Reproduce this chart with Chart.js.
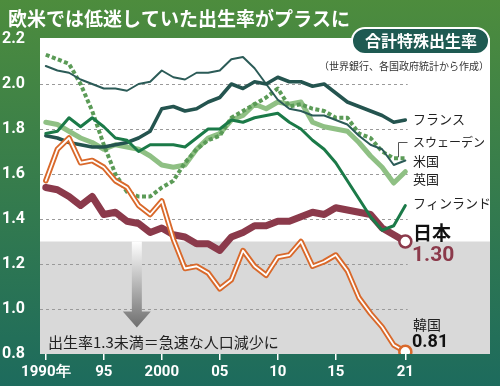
<!DOCTYPE html>
<html lang="ja">
<head>
<meta charset="UTF-8">
<title>欧米では低迷していた出生率がプラスに</title>
<script src="https://cdn.jsdelivr.net/npm/chart.js"></script>
<style>
  html, body { margin: 0; padding: 0; background: #3f7f4a; }
  #wrap { width: 500px; height: 386px; }
</style>
</head>
<body>
<div id="wrap"><canvas id="tfr" width="500" height="386"></canvas></div>
<script>
// 合計特殊出生率 1990-2021
const years = [1990, 1991, 1992, 1993, 1994, 1995, 1996, 1997, 1998, 1999,
               2000, 2001, 2002, 2003, 2004, 2005, 2006, 2007, 2008, 2009,
               2010, 2011, 2012, 2013, 2014, 2015, 2016, 2017, 2018, 2019,
               2020, 2021];
const france  = [1.77, 1.76, 1.74, 1.73, 1.72, 1.72, 1.73, 1.74, 1.76, 1.79, 1.89, 1.90, 1.88, 1.89, 1.92, 1.94, 2.00, 1.98, 2.01, 2.00, 2.03, 2.01, 2.01, 1.99, 2.00, 1.96, 1.92, 1.90, 1.88, 1.86, 1.83, 1.84];
const usa     = [2.08, 2.06, 2.05, 2.02, 2.00, 1.98, 1.98, 1.97, 2.00, 2.01, 2.06, 2.03, 2.02, 2.05, 2.05, 2.06, 2.11, 2.12, 2.07, 2.00, 1.93, 1.89, 1.88, 1.86, 1.86, 1.84, 1.82, 1.77, 1.73, 1.71, 1.64, 1.66];
const sweden  = [2.13, 2.11, 2.09, 2.00, 1.88, 1.73, 1.60, 1.52, 1.50, 1.50, 1.54, 1.57, 1.65, 1.71, 1.75, 1.77, 1.85, 1.88, 1.91, 1.94, 1.98, 1.90, 1.91, 1.89, 1.88, 1.85, 1.85, 1.78, 1.76, 1.70, 1.67, 1.67];
const uk      = [1.83, 1.82, 1.79, 1.76, 1.74, 1.71, 1.73, 1.72, 1.71, 1.68, 1.64, 1.63, 1.64, 1.71, 1.76, 1.78, 1.84, 1.86, 1.91, 1.89, 1.92, 1.91, 1.92, 1.83, 1.81, 1.80, 1.79, 1.74, 1.68, 1.63, 1.56, 1.61];
const finland = [1.78, 1.79, 1.85, 1.81, 1.85, 1.81, 1.76, 1.75, 1.70, 1.73, 1.73, 1.73, 1.72, 1.76, 1.80, 1.80, 1.84, 1.83, 1.85, 1.86, 1.87, 1.83, 1.80, 1.75, 1.71, 1.65, 1.57, 1.49, 1.41, 1.35, 1.37, 1.46];
const japan   = [1.54, 1.53, 1.50, 1.46, 1.50, 1.42, 1.43, 1.39, 1.38, 1.34, 1.36, 1.33, 1.32, 1.29, 1.29, 1.26, 1.32, 1.34, 1.37, 1.37, 1.39, 1.39, 1.41, 1.43, 1.42, 1.45, 1.44, 1.43, 1.42, 1.36, 1.33, 1.30];
const korea   = [1.57, 1.71, 1.76, 1.65, 1.66, 1.63, 1.57, 1.54, 1.46, 1.42, 1.48, 1.31, 1.18, 1.19, 1.16, 1.09, 1.13, 1.26, 1.19, 1.15, 1.23, 1.24, 1.30, 1.19, 1.21, 1.24, 1.17, 1.05, 0.98, 0.92, 0.84, 0.81];

const xTickYears  = [1990, 1995, 2000, 2005, 2010, 2015, 2021];
const xTickLabels = ['1990年', '95', '2000', '05', '10', '15', '21'];
const yTickValues = [0.8, 1.0, 1.2, 1.4, 1.6, 1.8, 2.0, 2.2];

const JP_FONT = '"Noto Sans CJK JP", "Noto Sans", sans-serif';
const NUM_FONT = 'Roboto, "Noto Sans", sans-serif';
const last = years.length - 1;

function series(label, vals, color, width, order, extra) {
    return Object.assign({
        label: label,
        data: years.map((yr, i) => ({ x: yr, y: vals[i] })),
        borderColor: color,
        borderWidth: width,
        pointRadius: 0,
        tension: 0,
        fill: false,
        borderJoinStyle: 'round',
        borderCapStyle: 'round',
        order: order
    }, extra || {});
}

const endDot = (color) => ({
    pointRadius: c => c.dataIndex === last ? 6 : 0,
    pointBackgroundColor: '#fff',
    pointBorderColor: color,
    pointBorderWidth: 2.5
});

// 背景、グレー帯、矢印、文字
const decor = {
    id: 'decor',
    beforeDraw(chart) {
        const { ctx, chartArea: a, scales: { x, y } } = chart;
        const W = chart.width, H = chart.height;
        ctx.save();
        const g = ctx.createLinearGradient(0, 0, 0, H);
        g.addColorStop(0, '#4d8c3d');
        g.addColorStop(1, '#1d6b5d');
        ctx.fillStyle = g;
        ctx.fillRect(0, 0, W, H);

        ctx.fillStyle = '#fff';
        ctx.fillRect(a.left, a.top - 1, a.right - a.left, a.bottom - a.top + 1);

        const y13 = y.getPixelForValue(1.3);
        ctx.fillStyle = '#d9d9d9';
        ctx.fillRect(a.left, y13, a.right - a.left, a.bottom - y13);

        // 点線の目盛り線
        ctx.strokeStyle = '#9a9a9a';
        ctx.lineWidth = 1;
        ctx.setLineDash([3, 3]);
        const gx = x.getPixelForValue(2021.2);
        y.ticks.forEach(t => {
            if (t.value <= 0.81 || t.value >= 2.19) return;
            const py = Math.round(y.getPixelForValue(t.value)) + 0.5;
            ctx.beginPath();
            ctx.moveTo(a.left, py);
            ctx.lineTo(gx, py);
            ctx.stroke();
        });
        ctx.setLineDash([]);

        // 下向き矢印
        const ax = x.getPixelForValue(1997.85);
        const ag = ctx.createLinearGradient(0, y13, 0, y13 + 86);
        ag.addColorStop(0, '#ffffff');
        ag.addColorStop(1, '#6e6e6e');
        ctx.fillStyle = ag;
        ctx.beginPath();
        ctx.moveTo(ax - 5, y13);
        ctx.lineTo(ax + 5, y13);
        ctx.lineTo(ax + 5, y13 + 70);
        ctx.lineTo(ax + 14, y13 + 70);
        ctx.lineTo(ax, y13 + 86);
        ctx.lineTo(ax - 14, y13 + 70);
        ctx.lineTo(ax - 5, y13 + 70);
        ctx.closePath();
        ctx.fill();
        ctx.restore();
    },
    afterDraw(chart) {
        const { ctx, scales: { x, y } } = chart;
        ctx.save();
        ctx.textBaseline = 'middle';

        // タイトル
        ctx.fillStyle = '#fff';
        ctx.font = 'bold 19px ' + JP_FONT;
        ctx.textAlign = 'left';
        ctx.fillText('欧米では低迷していた出生率がプラスに', 8, 19);

        // 見出しバッジ
        ctx.beginPath();
        ctx.roundRect(352, 28, 137, 26, 13);
        ctx.fillStyle = '#1e5a52';
        ctx.fill();
        ctx.lineWidth = 2;
        ctx.strokeStyle = '#fff';
        ctx.stroke();
        ctx.fillStyle = '#fff';
        ctx.font = 'bold 16px ' + JP_FONT;
        ctx.textAlign = 'center';
        ctx.fillText('合計特殊出生率', 421, 41);

        ctx.fillStyle = '#333';
        ctx.font = '10px ' + JP_FONT;
        ctx.textAlign = 'right';
        ctx.fillText('（世界銀行、各国政府統計から作成）', 489, 66);

        // 注記
        ctx.fillStyle = '#222';
        ctx.font = '15px ' + JP_FONT;
        ctx.textAlign = 'left';
        ctx.fillText('出生率1.3未満＝急速な人口減少に', 48, 342);

        // 国名ラベル
        const lx = 413;
        ctx.font = '13px ' + JP_FONT;
        ctx.fillText('フランス', lx, 119);
        ctx.fillText('米国', lx, 161);
        ctx.fillText('英国', lx, 179);
        ctx.fillText('フィンランド', lx, 203);
        ctx.font = '12px ' + JP_FONT;
        ctx.fillText('スウェーデン', lx, 142);
        ctx.font = '14px ' + JP_FONT;
        ctx.fillText('韓国', lx, 325);

        ctx.font = 'bold 19px ' + JP_FONT;
        ctx.fillStyle = '#111';
        ctx.fillText('日本', lx, 233);
        ctx.font = 'bold 21px ' + NUM_FONT;
        ctx.fillStyle = '#8b3a4b';
        ctx.fillText('1.30', lx - 1, 256);
        ctx.font = 'bold 18px ' + NUM_FONT;
        ctx.fillStyle = '#111';
        ctx.fillText('0.81', lx - 1, 342);

        // スウェーデンの引き出し線
        const sx = Math.round(x.getPixelForValue(2020.4)) + 0.5;
        const sy = y.getPixelForValue(sweden[last]);
        ctx.strokeStyle = '#555';
        ctx.lineWidth = 1;
        ctx.beginPath();
        ctx.moveTo(sx, sy - 1);
        ctx.lineTo(sx, 142.5);
        ctx.lineTo(sx + 9, 142.5);
        ctx.stroke();
        ctx.restore();
    }
};

const ctx = document.getElementById('tfr').getContext('2d');
new Chart(ctx, {
    type: 'line',
    data: {
        datasets: [
            series('韓国', korea, '#fff', 1.8, 1, endDot('#d9692b')),
            series('韓国枠', korea, '#d9692b', 5.5, 2),
            series('フィンランド', finland, '#1b7a48', 3, 3),
            series('日本', japan, '#8b3a4b', 7, 4, endDot('#8b3a4b')),
            series('フランス', france, '#24544f', 3.5, 5),
            series('米国', usa, '#2b5b57', 2, 6),
            series('スウェーデン', sweden, '#5b9b57', 4, 7, { borderDash: [4, 2.5], borderCapStyle: 'butt' }),
            series('英国', uk, '#8fc084', 5, 8)
        ]
    },
    options: {
        responsive: false,
        animation: false,
        events: [],
        layout: { padding: { top: 39, right: 10, left: 0, bottom: 0 } },
        plugins: { legend: { display: false }, tooltip: { enabled: false } },
        scales: {
            x: {
                type: 'linear',
                min: 1989.5,
                max: 2028.3,
                afterBuildTicks: s => { s.ticks = xTickYears.map(v => ({ value: v })); },
                afterFit: s => { s.height = 32; },
                border: { display: false },
                grid: { drawOnChartArea: false, drawTicks: true, tickLength: 6, color: '#fff', lineWidth: 1.5 },
                ticks: {
                    color: '#fff',
                    padding: 3,
                    maxRotation: 0,
                    autoSkip: false,
                    font: { family: NUM_FONT, size: 15, weight: 'bold' },
                    callback: v => xTickLabels[xTickYears.indexOf(v)]
                }
            },
            y: {
                min: 0.8,
                max: 2.2,
                afterBuildTicks: s => { s.ticks = yTickValues.map(v => ({ value: v })); },
                afterFit: s => { s.width = 40; },
                border: { display: false },
                grid: { display: false },
                ticks: {
                    color: '#fff',
                    padding: 7,
                    font: { family: NUM_FONT, size: 16, weight: 'bold' },
                    callback: v => v.toFixed(1)
                }
            }
        }
    },
    plugins: [decor]
});
</script>
</body>
</html>
